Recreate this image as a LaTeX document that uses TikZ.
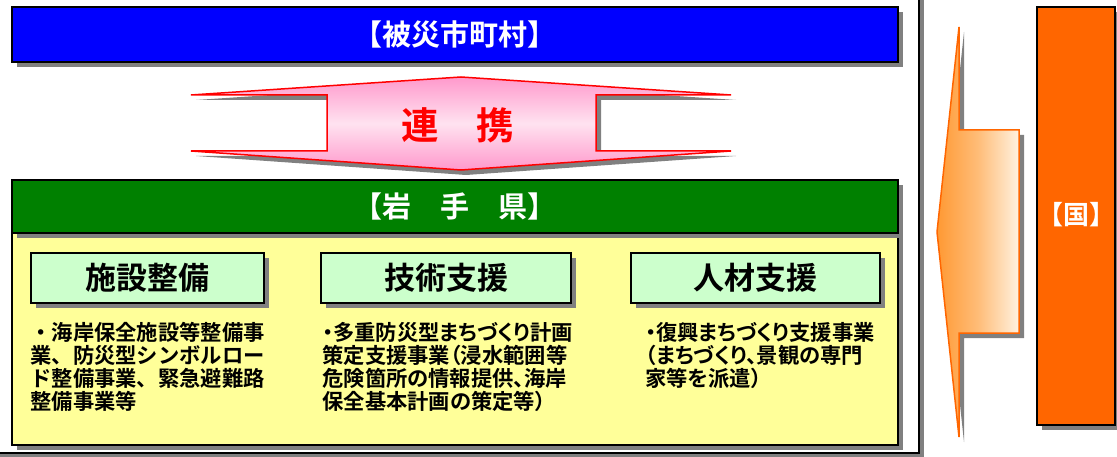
\documentclass[tikz,border=0pt]{standalone}
\usepackage{fontspec}
\newfontfamily\jpb{Noto Sans CJK JP Bold}
\newfontfamily\jpbp{Noto Sans CJK JP Bold}[RawFeature=+palt]
\usepackage{xcolor}
\usepackage{tikz}
\usetikzlibrary{positioning,shadows}

\definecolor{muniblue}{HTML}{0000FF}
\definecolor{prefgreen}{HTML}{008000}
\definecolor{paneyellow}{HTML}{FFFF99}
\definecolor{tabgreen}{HTML}{CCFFCC}
\definecolor{kuniorange}{HTML}{FF6600}
\definecolor{pinkdark}{HTML}{FF99CC}
\definecolor{pinklight}{HTML}{FFE2F0}
\definecolor{orangedark}{HTML}{FF9933}
\definecolor{orangelight}{HTML}{FFF2E0}

\begin{document}
\begin{tikzpicture}[
  x=1pt, y=-1pt,
  dropsh/.style={drop shadow={shadow xshift=5pt, shadow yshift=-5pt, fill=black!50, opacity=1}},
  bar/.style={rectangle, draw=black, line width=2pt, dropsh, minimum width=886pt,
              inner sep=0pt, text=white, font=\jpb\fontsize{29}{29}\selectfont},
  pane/.style={rectangle, draw=black, line width=2pt, dropsh, inner sep=0pt},
  tab/.style={rectangle, draw=black, line width=1.5pt, fill=tabgreen, dropsh,
              minimum height=50pt, inner sep=0pt, font=\jpb\fontsize{31}{31}\selectfont},
  desc/.style={inner sep=0pt, align=left, font=\jpb\fontsize{21.3}{23}\selectfont},
  descp/.style={desc, font=\jpbp\fontsize{21.3}{23}\selectfont},
]
\useasboundingbox (0,0) rectangle (1117,457);
\clip (0,0) rectangle (1117,457);
% outer frame (cut by the page edge)
\node[pane, fill=white, minimum width=940pt, minimum height=470pt] (frame) at (449,218) {};
% municipalities
\node[bar, fill=muniblue, minimum height=55pt] (muni) at (455,34.5) {【被災市町村】};
% two-way arrow between municipalities and prefecture
\draw[red, line width=1.5pt, top color=pinkdark, bottom color=pinkdark, middle color=pinklight, dropsh]
  (191,95) -- (461,77) -- (731,95) -- (596,95) -- (596,151) -- (731,151)
  -- (461,170) -- (191,151) -- (327,151) -- (327,95) -- cycle;
\node[text=red, font=\jpb\fontsize{37.5}{37.5}\selectfont] (renkei) at (458,125) {連　携};
% prefecture
\node[pane, fill=paneyellow, minimum width=886pt, minimum height=215pt] (panel) at (455,337.5) {};
\node[bar, fill=prefgreen, minimum height=53pt] (pref) at (455,206.5) {【岩　手　県】};
% support menus
\node[tab, minimum width=233pt] (fac) at (147.5,278) {施設整備};
\node[tab, minimum width=250pt] (tech) at (446,278) {技術支援};
\node[tab, minimum width=249pt] (hr) at (755.5,278) {人材支援};
\node[desc, below right=18pt and 0pt of fac.south west] (facdesc)
  {・海岸保全施設等整備事\\業、防災型シンボルロー\\ド整備事業、緊急避難路\\整備事業等};
\node[descp, below right=18pt and 2pt of tech.south west] (techdesc)
  {・多重防災型まちづくり計画\\策定支援事業（浸水範囲等\\危険箇所の情報提供、海岸\\保全基本計画の策定等）};
\node[descp, below right=18pt and 15pt of hr.south west] (hrdesc)
  {・復興まちづくり支援事業\\（まちづくり、景観の専門\\家等を派遣）};
% arrow from the state
\draw[kuniorange, line width=1.5pt, left color=orangedark, right color=orangelight,
      middle color=orangedark!60!orangelight, dropsh]
  (959,27) -- (937,232) -- (959,437) -- (959,333) -- (1019,333) -- (1019,130) -- (959,130) -- cycle;
\node[rectangle, draw=black, line width=1.5pt, fill=kuniorange, dropsh, minimum width=78pt,
      minimum height=418pt, inner sep=0pt, text=white, font=\jpb\fontsize{26}{26}\selectfont]
  (kuni) at (1076,216) {\raisebox{6pt}{【国】}};
\end{tikzpicture}
\end{document}
